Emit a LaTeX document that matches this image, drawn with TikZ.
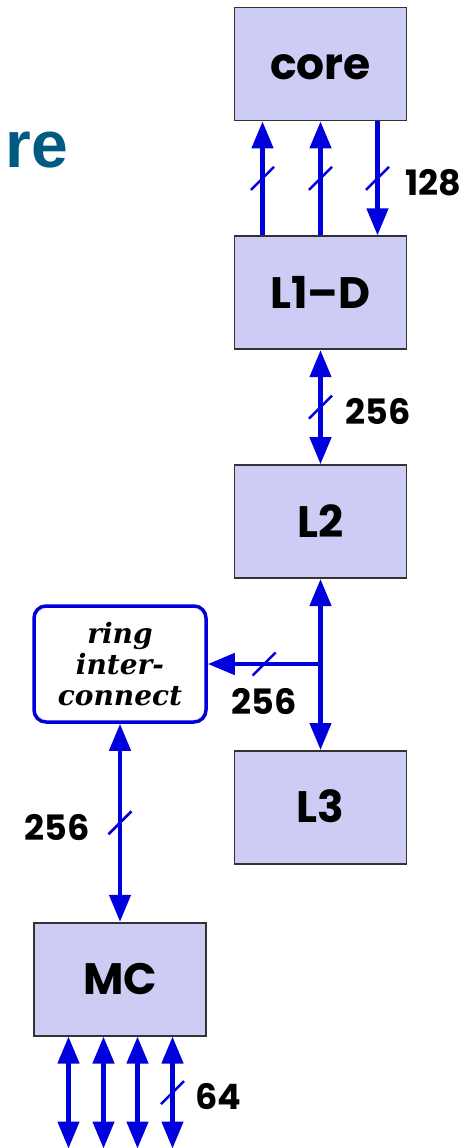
\documentclass[tikz,border=0pt]{standalone}
\usepackage{fontspec}
\setsansfont{Poppins}
\newfontfamily\titlefont{Liberation Sans}
\newfontfamily\ringfont{DejaVu Serif}
\usetikzlibrary{positioning,arrows.meta}

\definecolor{boxfill}{RGB}{204,204,245}
\definecolor{busblue}{RGB}{0,0,220}
\definecolor{titleteal}{RGB}{0,90,130}

% bus width mark across a wire
\newcommand{\buswidth}[1]{\draw[tick] ([shift={(-11.5pt,-11.5pt)}]#1) -- ([shift={(11.5pt,11.5pt)}]#1);}

\begin{document}
\begin{tikzpicture}[
    x=1pt, y=-1pt,
    node distance=114pt and 30pt,
    every node/.style={font=\sffamily\bfseries\fontsize{44}{48}\selectfont},
    unit/.style={draw=black!80, line width=1.8pt, fill=boxfill, minimum width=172pt, minimum height=113pt, inner sep=0pt, text height=31pt, text depth=0pt},
    ringbox/.style={draw=busblue, line width=3.5pt, rounded corners=12pt, fill=white, minimum width=172pt, minimum height=116pt, inner sep=0pt, align=center, font=\ringfont\bfseries\itshape\fontsize{28}{31}\selectfont},
    bus/.style={busblue, line width=4.5pt, -{Triangle[length=27pt,width=21pt]}},
    dbus/.style={bus, {Triangle[length=27pt,width=21pt]}-{Triangle[length=27pt,width=21pt]}},
    tick/.style={busblue, line width=2.5pt},
    bits/.style={inner sep=0pt, font=\sffamily\bfseries\fontsize{35}{40}\selectfont}
]
\useasboundingbox (0,0) rectangle (474,1148);

% heading
\node[font=\titlefont\bfseries\fontsize{66}{70}\selectfont, text=titleteal, anchor=base east, inner sep=0pt] (title) at (68,167) {re};

\node[unit] (core) at (320.5,64) {core};
\node[unit, below=of core] (l1d) {L1–D};
\node[unit, below=of l1d] (l2) {L2};
\node[unit, below=171pt of l2] (l3) {L3};
\node[ringbox] (ring) at (120,664) {ring\\inter-\\connect};
\node[unit, below=198pt of ring] (mc) {MC};

% core <-> L1-D
\draw[bus] ([xshift=-58pt]l1d.north) -- coordinate (w1) ([xshift=-58pt]core.south);
\draw[bus] (l1d.north) -- coordinate (w2) (core.south);
\draw[bus] ([xshift=57pt]core.south) -- coordinate (w3) ([xshift=57pt]l1d.north);
\buswidth{w1}
\buswidth{w2}
\buswidth{w3}
\node[bits, right=28pt of w3, yshift=-4pt] (b128) {128};

% L1-D <-> L2 <-> L3
\draw[dbus] (l1d) -- coordinate (w4) (l2);
\buswidth{w4}
\node[bits, right=25pt of w4, yshift=-4pt] (b256a) {256};
\draw[dbus] (l2) -- (l3);

% branch to the ring
\draw[bus] (ring.east -| l2.south) -- coordinate (w5) (ring.east);
\buswidth{w5}
\node[bits, below=24pt of w5] (b256b) {256};

% ring <-> MC
\draw[dbus] (ring) -- coordinate (w6) (mc);
\buswidth{w6}
\node[bits, left=30pt of w6, yshift=-5pt] (b256c) {256};

% memory channels
\foreach \dx [count=\i] in {-51.5,-16.5,17.5,52.5} {
  \coordinate (top\i) at ([xshift=\dx pt]mc.south);
  \coordinate (pin\i) at ([yshift=-112pt]top\i);
  \draw[dbus] (top\i) -- coordinate (p\i) (pin\i);
}
\buswidth{p4}
\node[bits, right=23pt of p4, yshift=-4pt] (b64) {64};
\end{tikzpicture}
\end{document}
